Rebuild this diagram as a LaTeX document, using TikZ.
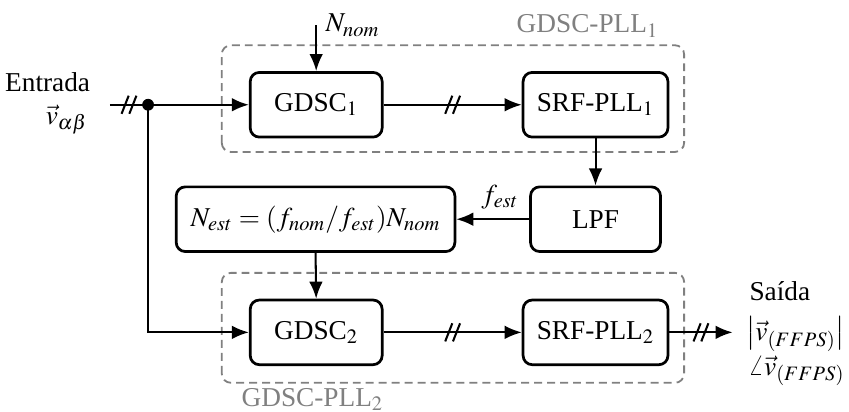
\documentclass[tikz,border=0pt,12pt]{standalone}
\usepackage{mathptmx}
\usepackage{fontspec}
\setmainfont{Liberation Serif}
\usepackage{tikz}
\usetikzlibrary{arrows.meta}
\definecolor{grp}{RGB}{128,128,128}

\begin{document}
\begin{tikzpicture}[
  >={Latex[length=7.5pt,width=6pt]},
  blk/.style={draw,very thick,rounded corners=4pt,minimum height=1cm,inner sep=3pt},
  grpbox/.style={draw=grp,thick,dash pattern=on 3.5pt off 2.2pt,rounded corners=4pt},
  wire/.style={line width=0.9pt},
  outtxt/.style={anchor=base west,inner sep=1pt},
  bus/.pic={\draw[wire] (-0.115,-0.14) -- (-0.005,0.14);
            \draw[wire] (0.005,-0.14) -- (0.115,0.14);}
]
  \useasboundingbox (0,0) rectangle (13.13,6.37);

  % the two GDSC-PLL groups
  \draw[grpbox] (3.43,4.02) rectangle (10.58,5.67);
  \draw[grpbox] (3.43,0.45) rectangle (10.58,2.15);
  \node[grp,anchor=base east] (pll1) at (10.33,5.86) {GDSC-PLL$_1$};
  \node[grp,anchor=base west] (pll2) at (3.59,0.09) {GDSC-PLL$_2$};

  % blocks
  \node[blk,minimum width=2.04cm] (gdsc1) at (4.89,4.75) {GDSC$_1$};
  \node[blk,minimum width=2.24cm] (srf1)  at (9.21,4.75) {SRF-PLL$_1$};
  \node[blk,minimum width=2.01cm] (lpf)   at (9.21,2.98) {LPF};
  \node[blk,minimum width=4.31cm] (nest)  at (4.88,2.98) {$N_{est}=(f_{nom}/f_{est})N_{nom}$};
  \node[blk,minimum width=2.04cm] (gdsc2) at (4.89,1.23) {GDSC$_2$};
  \node[blk,minimum width=2.24cm] (srf2)  at (9.21,1.23) {SRF-PLL$_2$};

  % input and nominal count
  \coordinate (in) at (1.70,4.75);
  \coordinate (nom) at (4.89,5.98);
  \node[anchor=base east] (entrada) at (1.54,4.95) {Entrada};
  \node[anchor=base east] (vin) at (1.50,4.45) {$\vec{v}_{\alpha\beta}$};
  \node[anchor=west] (nomlbl) at (nom) {$N_{nom}$};

  \draw[wire] (in) -- coordinate[midway] (b0) (2.29,4.75) coordinate (jn);
  \fill (jn) circle (2.6pt);
  \draw[wire,->] (jn) -- (gdsc1.west);
  \draw[wire,->] (jn) |- (gdsc2.west);
  \draw[wire,->] (nom) -- (gdsc1.north);

  % forward path
  \draw[wire,->] (gdsc1.east) -- coordinate[midway] (b1) (srf1.west);
  \draw[wire,->] (srf1.south) -- (lpf.north);
  \draw[wire,->] (lpf.west) -- node[above,pos=0.4] (fest) {$f_{est}$} (nest.east);
  \draw[wire,->] (nest.south) -- (gdsc2.north);
  \draw[wire,->] (gdsc2.east) -- coordinate[midway] (b2) (srf2.west);

  % output
  \coordinate (out) at (11.33,1.23);
  \draw[wire,->] (srf2.east) -- coordinate[midway] (b3) (out);
  \node[outtxt] (saida) at (11.55,1.73) {Saída};
  \node[outtxt] (mag) at (11.50,1.11) {$\left|\vec{v}_{(FFPS)}\right|$};
  \node[outtxt] (ang) at (11.53,0.57) {$\angle\vec{v}_{(FFPS)}$};

  % bus marks
  \foreach \b in {b0,b1,b2,b3} \pic at (\b) {bus};
\end{tikzpicture}
\end{document}
